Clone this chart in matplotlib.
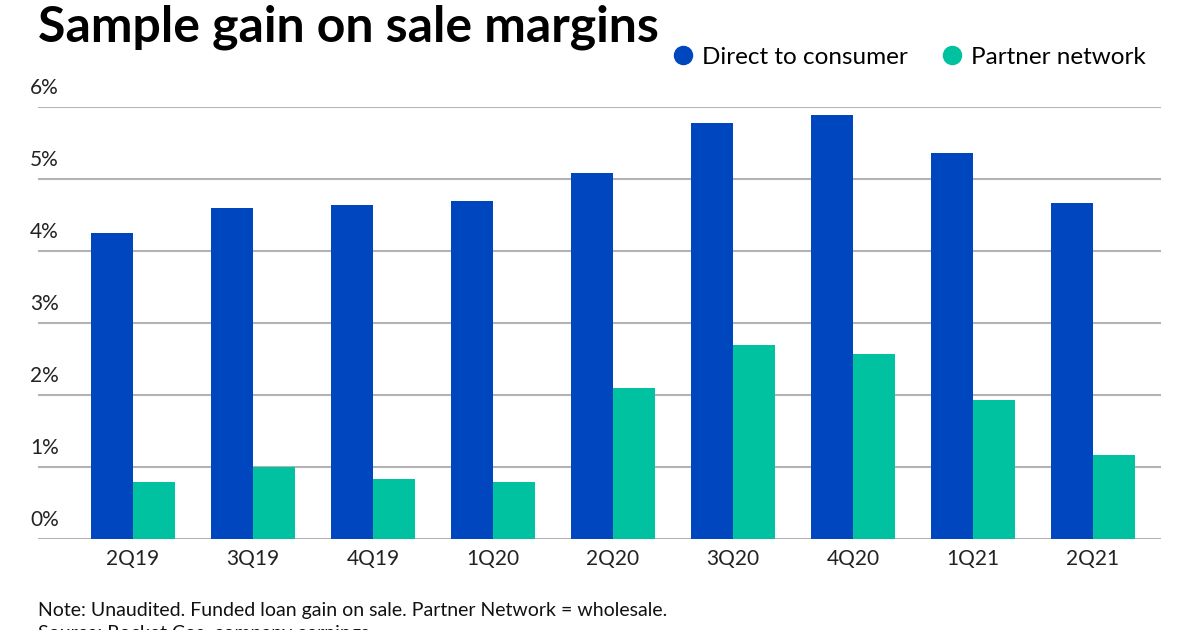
import numpy as np
import matplotlib.pyplot as plt
from matplotlib.lines import Line2D
from matplotlib.transforms import blended_transform_factory

quarters = ['2Q19', '3Q19', '4Q19', '1Q20', '2Q20', '3Q20', '4Q20', '1Q21', '2Q21']
direct = [4.25, 4.60, 4.64, 4.69, 5.08, 5.78, 5.89, 5.36, 4.67]
partner = [0.79, 1.00, 0.83, 0.79, 2.10, 2.69, 2.57, 1.93, 1.17]
yticks = [0, 1, 2, 3, 4, 5, 6]

blue = '#0046BE'
green = '#00C1A0'
grid = '#b3b3b3'

plt.rcParams['font.family'] = ['Lato', 'DejaVu Sans']

fig = plt.figure(figsize=(12, 6.3), dpi=100)
ax = fig.add_axes([38 / 1200, 1 - 539 / 630, 1123 / 1200, 432 / 630])

x = np.arange(len(quarters))
w = 0.35
ax.bar(x - w / 2, direct, w, color=blue, zorder=3)
ax.bar(x + w / 2, partner, w, color=green, zorder=3)

ax.set_ylim(0, 6)
ax.set_xlim(-95 / 120, 8 + 68 / 120)
for s in ax.spines.values():
    s.set_visible(False)
ax.set_yticks(yticks)
ax.set_yticklabels([])
ax.tick_params(axis='y', length=0)
for v in yticks:
    ax.axhline(v, color=grid, lw=1.5, zorder=1)

trans = blended_transform_factory(ax.transAxes, ax.transData)
for v in yticks:
    ax.annotate(f'{v}%', xy=(-0.007, v), xycoords=trans, xytext=(0, 9.5),
                textcoords='offset points', ha='left', va='baseline',
                fontsize=15, color='#222222')

ax.set_xticks(x)
ax.set_xticklabels(quarters, fontsize=15, color='#222222')
ax.tick_params(axis='x', length=0, pad=7)

fig.text(38 / 1200, 1 - 42 / 630, 'Sample gain on sale margins', fontsize=36,
         fontweight='bold', color='black', ha='left', va='baseline')

handles = [Line2D([], [], marker='o', ls='', color=blue, markersize=13, label='Direct to consumer'),
           Line2D([], [], marker='o', ls='', color=green, markersize=13, label='Partner network')]
fig.legend(handles=handles, loc='center right', bbox_to_anchor=(0.955, 1 - 57 / 630),
           ncol=2, frameon=False, fontsize=17.5, handletextpad=0.3, columnspacing=1.3,
           borderpad=0, borderaxespad=0, handlelength=1.0)

fig.text(38 / 1200, 1 - 616 / 630, 'Note: Unaudited. Funded loan gain on sale. Partner Network = wholesale.',
         fontsize=14, color='#111111', ha='left', va='baseline')
fig.text(38 / 1200, 1 - 639 / 630, 'Source: Rocket Cos. company earnings',
         fontsize=14, color='#111111', ha='left', va='baseline')

fig.savefig('out.png', dpi=100)
